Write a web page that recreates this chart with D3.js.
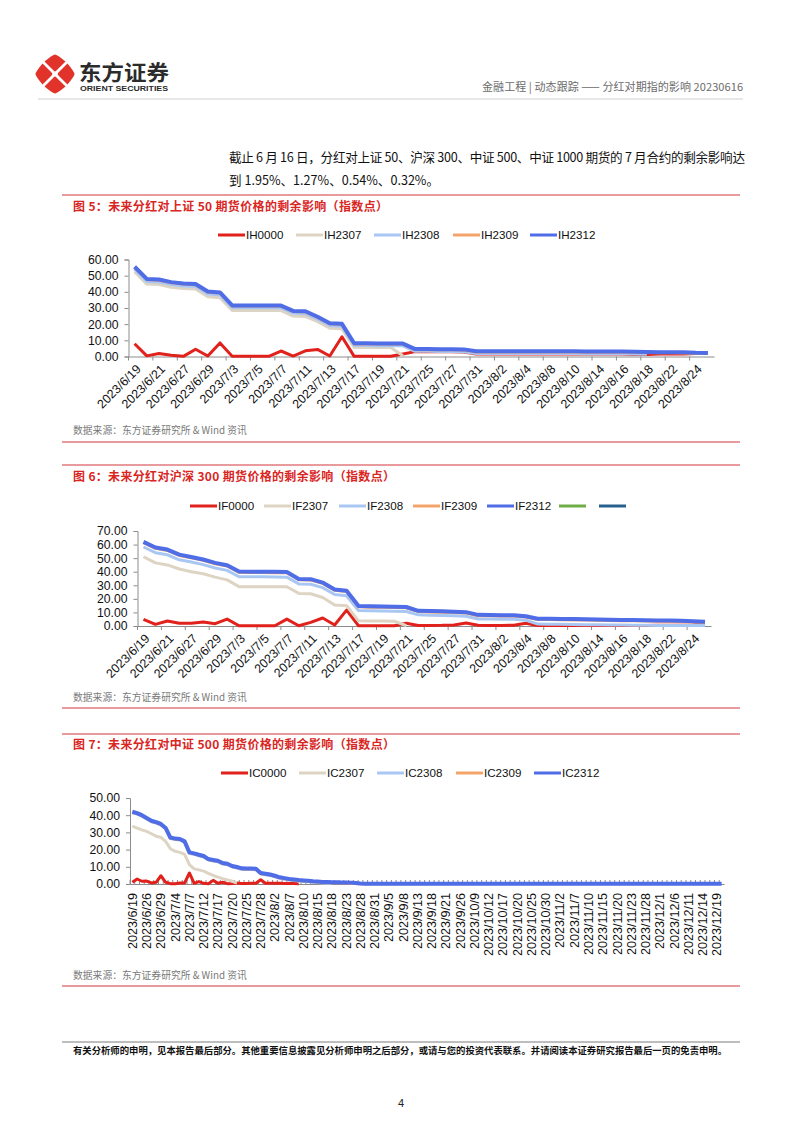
<!DOCTYPE html>
<html><head><meta charset="utf-8">
<script src="https://cdn.jsdelivr.net/npm/d3@7"></script>
<style>
body{margin:0;background:#fff;}
svg{display:block;}
.cjk{font-family:"Noto Sans CJK SC","Noto Sans",sans-serif;}
.lat{font-family:"Liberation Sans",Arial,sans-serif;}
</style></head>
<body>
<svg id="page" width="802" height="1133"></svg>
<script>
// ---------- DATA ----------
const datesIH = ["2023/6/19","2023/6/20","2023/6/21","2023/6/26","2023/6/27","2023/6/28","2023/6/29","2023/6/30","2023/7/3","2023/7/4","2023/7/5","2023/7/6","2023/7/7","2023/7/10","2023/7/11","2023/7/12","2023/7/13","2023/7/14","2023/7/17","2023/7/18","2023/7/19","2023/7/20","2023/7/21","2023/7/24","2023/7/25","2023/7/26","2023/7/27","2023/7/28","2023/7/31","2023/8/1","2023/8/2","2023/8/3","2023/8/4","2023/8/7","2023/8/8","2023/8/9","2023/8/10","2023/8/11","2023/8/14","2023/8/15","2023/8/16","2023/8/17","2023/8/18","2023/8/21","2023/8/22","2023/8/23","2023/8/24","2023/8/25"];
const datesIF = datesIH;
const datesIC = ["2023/6/19","2023/6/20","2023/6/21","2023/6/26","2023/6/27","2023/6/28","2023/6/29","2023/6/30","2023/7/3","2023/7/4","2023/7/5","2023/7/6","2023/7/7","2023/7/10","2023/7/11","2023/7/12","2023/7/13","2023/7/14","2023/7/17","2023/7/18","2023/7/19","2023/7/20","2023/7/21","2023/7/24","2023/7/25","2023/7/26","2023/7/27","2023/7/28","2023/7/31","2023/8/1","2023/8/2","2023/8/3","2023/8/4","2023/8/7","2023/8/8","2023/8/9","2023/8/10","2023/8/11","2023/8/14","2023/8/15","2023/8/16","2023/8/17","2023/8/18","2023/8/21","2023/8/22","2023/8/23","2023/8/24","2023/8/25","2023/8/28","2023/8/29","2023/8/30","2023/8/31","2023/9/1","2023/9/4","2023/9/5","2023/9/6","2023/9/7","2023/9/8","2023/9/11","2023/9/12","2023/9/13","2023/9/14","2023/9/15","2023/9/18","2023/9/19","2023/9/20","2023/9/21","2023/9/22","2023/9/25","2023/9/26","2023/9/27","2023/9/28","2023/10/9","2023/10/10","2023/10/11","2023/10/12","2023/10/13","2023/10/16","2023/10/17","2023/10/18","2023/10/19","2023/10/20","2023/10/23","2023/10/24","2023/10/25","2023/10/26","2023/10/27","2023/10/30","2023/10/31","2023/11/1","2023/11/2","2023/11/3","2023/11/6","2023/11/7","2023/11/8","2023/11/9","2023/11/10","2023/11/13","2023/11/14","2023/11/15","2023/11/16","2023/11/17","2023/11/20","2023/11/21","2023/11/22","2023/11/23","2023/11/24","2023/11/27","2023/11/28","2023/11/29","2023/11/30","2023/12/1","2023/12/4","2023/12/5","2023/12/6","2023/12/7","2023/12/8","2023/12/11","2023/12/12","2023/12/13","2023/12/14","2023/12/15","2023/12/18","2023/12/19","2023/12/20"];

// 上证50 (IH)
const IH0000 = [7.9,0.4,1.9,0.8,0.1,4.5,0.3,8.4,0.1,0.1,0.1,0.1,3.4,0.3,3.5,4.4,0.3,12.2,0.1,0.1,0.1,0.1,1.5,3.0,3.0,2.9,2.9,2.8,1.6,1.6,1.6,1.6,1.6,1.6,1.6,1.6,1.6,1.5,1.5,1.5,1.5,1.3,1.2,1.5,1.6,1.6,1.8,2.0];
const IH2307 = [52.4,44.8,44.5,42.8,42.0,41.7,37.0,36.4,28.5,28.5,28.5,28.5,28.4,25.0,24.8,21.5,17.5,17.1,5.6,5.6,5.5,5.5,0.5];
const IH2308 = [54.0,46.4,46.1,44.5,43.6,43.3,38.7,38.1,30.1,30.1,30.1,30.1,30.0,26.7,26.5,23.1,19.1,18.7,6.8,6.8,6.7,6.7,6.6,3.2,3.2,3.1,3.1,3.0,1.8,1.8,1.8,1.8,1.8,1.8,1.8,1.8,1.8,1.7,1.7,1.7,1.7,1.5,1.4];
const IH2309 = [55.1,47.6,47.2,45.6,44.8,44.4,39.8,39.2,31.2,31.2,31.2,31.2,31.1,27.8,27.6,24.2,20.2,19.8,7.8,7.8,7.7,7.7,7.6,4.2,4.2,4.1,4.1,4.0,2.8,2.8,2.8,2.8,2.8,2.8,2.8,2.8,2.8,2.7,2.7,2.7,2.7,2.5,2.4,2.3,2.3,2.2,1.9,1.8];
const IH2312 = [55.5,48.0,47.6,46.0,45.2,44.8,40.2,39.6,31.6,31.6,31.6,31.6,31.5,28.2,28.0,24.6,20.6,20.2,8.2,8.2,8.1,8.1,8.0,4.6,4.6,4.5,4.5,4.4,3.2,3.2,3.2,3.2,3.2,3.2,3.2,3.2,3.2,3.1,3.1,3.1,3.1,2.9,2.8,2.7,2.7,2.6,2.3,2.2];

// 沪深300 (IF)
const IF0000 = [4.9,1.2,3.7,2.0,2.0,2.9,1.7,5.1,0.2,0.2,0.2,0.2,5.1,0.2,2.7,5.9,0.7,11.7,0.2,0.2,0.2,0.2,2.0,0.4,0.4,0.5,0.8,2.2,0.5,0.4,0.4,0.6,2.0,0.4,0.4,0.4,0.4,0.4,0.4,0.4,0.4,0.4,0.4,0.5,0.5,0.6,0.8,1.5];
const IF2307 = [51.0,46.5,45.0,42.0,40.0,38.5,36.0,34.0,29.0,29.0,29.0,28.9,28.9,24.0,23.8,21.0,15.5,15.0,3.8,3.7,3.6,3.5,0.3];
const IF2308 = [58.2,54.0,52.5,48.8,47.1,45.2,42.7,41.0,36.3,36.2,36.2,36.1,36.0,31.0,30.8,28.3,23.2,22.3,11.4,11.2,11.1,10.9,10.7,8.2,8.0,7.8,7.5,7.2,5.2,5.1,5.0,4.9,4.3,1.4,1.3,1.2,1.1,1.0,0.9,0.8,0.7,0.6,0.5,0.4,0.4,0.4,0.3,0.3];
const IF2309 = [61.4,57.2,55.7,52.0,50.3,48.4,45.9,44.2,39.5,39.4,39.4,39.3,39.2,34.1,33.9,31.4,26.3,25.4,14.1,13.9,13.8,13.6,13.4,10.6,10.4,10.2,9.9,9.6,7.6,7.5,7.4,7.3,6.6,4.8,4.7,4.6,4.5,4.4,4.2,4.0,3.9,3.8,3.7,3.5,3.4,3.2,2.9,2.6];
const IF2312 = [62.0,57.8,56.3,52.6,50.9,49.0,46.5,44.8,40.1,40.0,40.0,39.9,39.8,34.7,34.5,32.0,26.9,26.0,14.7,14.5,14.4,14.2,14.0,11.2,11.0,10.8,10.5,10.2,8.2,8.1,8.0,7.9,7.2,5.4,5.3,5.2,5.1,5.0,4.8,4.6,4.5,4.4,4.3,4.1,4.0,3.8,3.5,3.2];

// 中证500 (IC)
const IC0000 = [1.0,2.9,1.6,1.7,0.6,1.0,4.8,1.0,0.2,0.2,0.6,0.6,6.4,0.4,1.4,0.4,0.2,2.1,0.4,1.0,0.2,0.3,0.6,0.3,0.3,0.4,0.4,2.5,0.4,0.4,0.5,0.4,0.3,0.3,0.3,0.2];
const IC2307 = [33.7,32.5,31.5,30.6,29.2,27.8,27.1,24.8,20.5,19.0,18.4,17.2,11.2,8.8,8.2,7.5,6.2,5.0,4.0,3.1,2.4,1.6,0.6];
const IC2308 = [41.4,40.6,39.4,37.8,36.2,35.4,34.3,32.0,26.4,25.8,25.6,24.2,17.8,17.2,16.4,15.7,13.9,13.4,12.9,11.6,11.2,9.9,9.3,8.5,8.4,8.4,8.3,5.8,5.4,4.9,4.2,3.3,2.8,2.3,2.0,1.7,1.5,1.3,1.0,0.8,0.6,0.5,0.4];
const IC2309 = [41.7,40.9,39.7,38.1,36.5,35.7,34.6,32.3,26.7,26.1,25.9,24.5,18.1,17.5,16.7,16.0,14.2,13.7,13.2,11.9,11.5,10.2,9.6,8.8,8.7,8.7,8.6,6.1,5.7,5.2,4.5,3.6,3.1,2.6,2.3,2.0,1.8,1.6,1.3,1.1,0.9,0.8,0.7,0.7,0.6,0.6,0.5,0.3,0.1,0.1,0.1,0.1,0.1,0.1,0.1,0.1,0.1,0.1,0.1,0.1,0.1,0.1,0.1];
const IC2312 = [42.0,41.2,40.0,38.4,36.8,36.0,34.9,32.6,27.0,26.4,26.2,24.8,18.4,17.8,17.0,16.3,14.5,14.0,13.5,12.2,11.8,10.5,9.9,9.1,9.0,9.0,8.9,6.4,6.0,5.5,4.8,3.9,3.4,2.9,2.6,2.3,2.1,1.9,1.6,1.4,1.2,1.1,1.0,1.0,0.9,0.9,0.8,0.6,0.3,0.2,0.2,0.2,0.2,0.2,0.2,0.2,0.2,0.2,0.2,0.2,0.2,0.2,0.2,0.2,0.2,0.2,0.2,0.2,0.2,0.2,0.2,0.2,0.2,0.2,0.2,0.2,0.2,0.2,0.2,0.2,0.2,0.2,0.2,0.2,0.2,0.2,0.2,0.2,0.2,0.2,0.2,0.2,0.2,0.2,0.2,0.2,0.2,0.2,0.2,0.2,0.2,0.2,0.2,0.2,0.2,0.2,0.2,0.2,0.2,0.2,0.2,0.2,0.2,0.2,0.2,0.2,0.2,0.2,0.2,0.2,0.2,0.2,0.2,0.2,0.2];

const seriesColors = {c0000:"#E1211C", c2307:"#DDD4C4", c2308:"#A9C7F3", c2309:"#F4A46B", c2312:"#4E6DE6", green:"#6FAD47", navy:"#26608F"};

const titles = ["图 5：未来分红对上证 50 期货价格的剩余影响（指数点）",
                "图 6：未来分红对沪深 300 期货价格的剩余影响（指数点）",
                "图 7：未来分红对中证 500 期货价格的剩余影响（指数点）"];
const sourceText = "数据来源：东方证券研究所 & Wind 资讯";

// ---------- PAGE ----------
const svg = d3.select("#page");
svg.append("rect").attr("width",802).attr("height",1133).attr("fill","#fff");

// logo
const logo = svg.append("g").attr("transform","translate(55,74)");
[0,90,180,270].forEach(a=>{
  logo.append("path").attr("d","M-1.2,-3.2 L-10.5,-12.5 Q-2,-19.5 0,-19.5 Q2,-19.5 10.5,-12.5 L1.2,-3.2 Q0,-2 -1.2,-3.2 Z")
    .attr("transform",`rotate(${a})`).attr("fill","#E2332B");
});
svg.append("text").attr("class","cjk").attr("x",79).attr("y",80).attr("font-size",21).attr("font-weight",700)
  .attr("fill","#2b2b2b").attr("textLength",90).attr("lengthAdjust","spacingAndGlyphs").text("东方证券");
svg.append("text").attr("class","lat").attr("x",80).attr("y",91).attr("font-size",7.6).attr("font-weight",700)
  .attr("fill","#2b2b2b").attr("textLength",88).attr("lengthAdjust","spacingAndGlyphs").text("ORIENT SECURITIES");
svg.append("text").attr("class","cjk").attr("x",743).attr("y",91).attr("text-anchor","end").attr("font-size",11)
  .attr("fill","#6b6b6b").attr("textLength",261).attr("lengthAdjust","spacing").text("金融工程 | 动态跟踪 —— 分红对期指的影响 20230616");
svg.append("line").attr("x1",38).attr("x2",743).attr("y1",99).attr("y2",99).attr("stroke","#cfcfcf").attr("stroke-width",1);

// body text
svg.append("text").attr("class","cjk").attr("x",229).attr("y",162).attr("font-size",12.6).attr("fill","#111")
  .attr("textLength",516).attr("lengthAdjust","spacing")
  .text("截止 6 月 16 日，分红对上证 50、沪深 300、中证 500、中证 1000 期货的 7 月合约的剩余影响达");
svg.append("text").attr("class","cjk").attr("x",229).attr("y",185).attr("font-size",12.6).attr("fill","#111")
  .text("到 1.95%、1.27%、0.54%、0.32%。");

// footer
svg.append("line").attr("x1",62).attr("x2",740).attr("y1",1042).attr("y2",1042).attr("stroke","#a8a8a8").attr("stroke-width",1.5);
svg.append("text").attr("class","cjk").attr("x",73).attr("y",1054).attr("font-size",9.6).attr("font-weight",700).attr("fill","#111")
  .attr("textLength",654).attr("lengthAdjust","spacingAndGlyphs")
  .text("有关分析师的申明，见本报告最后部分。其他重要信息披露见分析师申明之后部分，或请与您的投资代表联系。并请阅读本证券研究报告最后一页的免责申明。");
svg.append("text").attr("class","lat").attr("x",401).attr("y",1107).attr("text-anchor","middle").attr("font-size",11).attr("fill","#222").text("4");

// ---------- CHART FUNCTION ----------
function drawChart(cfg){
  const g = svg.append("g");
  g.append("line").attr("x1",62).attr("x2",740).attr("y1",cfg.topLine).attr("y2",cfg.topLine).attr("stroke","#E0787C").attr("stroke-width",1.5);
  g.append("text").attr("class","cjk").attr("x",73).attr("y",cfg.titleY).attr("font-size",12).attr("font-weight",700)
    .attr("fill","#D9261F").attr("textLength",cfg.titleLen).attr("lengthAdjust","spacing").text(cfg.title);
  g.append("text").attr("class","cjk").attr("x",73).attr("y",cfg.sourceY).attr("font-size",9.8).attr("fill","#7a7a7a").text(sourceText);
  g.append("line").attr("x1",62).attr("x2",740).attr("y1",cfg.bottomLine).attr("y2",cfg.bottomLine).attr("stroke","#E0787C").attr("stroke-width",1.5);

  const x = d3.scaleBand().domain(cfg.dates).range([cfg.x0,cfg.x1]);
  const y = d3.scaleLinear().domain([0,cfg.ymax]).range([cfg.yBot,cfg.yTop]);
  const bw = x.bandwidth();
  const cx = d => x(d)+bw/2;

  const ya = g.append("g").attr("transform",`translate(${cfg.x0},0)`)
    .call(d3.axisLeft(y).tickValues(d3.range(0,cfg.ymax+0.1,10)).tickFormat(d3.format(".2f")).tickSize(4).tickPadding(6));
  ya.select(".domain").attr("stroke","#8c8c8c").attr("stroke-width",1);
  ya.selectAll(".tick line").attr("stroke","#8c8c8c");
  ya.selectAll("text").attr("class","lat").attr("font-size",12.2).attr("fill","#111");

  const lblDates = cfg.dates.filter((d,i)=>i%cfg.step===0);
  const xa = g.append("g").attr("transform",`translate(0,${cfg.yBot})`)
    .call(d3.axisBottom(x).tickValues(cfg.tickEvery? cfg.dates : lblDates).tickSize(cfg.tickLen).tickPadding(0).tickSizeOuter(0));
  xa.select(".domain").attr("stroke","#8c8c8c").attr("stroke-width",1);
  xa.selectAll(".tick line").attr("stroke","#8c8c8c").attr("transform",`translate(${-bw/2},0)`);
  xa.selectAll("text").remove();
  const lg = g.append("g");
  lblDates.forEach(d=>{
    lg.append("text").attr("class","lat").attr("font-size",cfg.lblSize).attr("fill","#111")
      .attr("text-anchor","end").text(d)
      .attr("transform",`translate(${cx(d)},${cfg.yBot}) rotate(${cfg.rot})`)
      .attr("x",cfg.lx).attr("y",cfg.ly).attr("dy","0.35em");
  });

  const line = d3.line().x((v,i)=>cx(cfg.dates[i])).y(v=>y(v));
  cfg.series.forEach(s=>{
    g.append("path").datum(s.values).attr("d",line).attr("fill","none").attr("stroke",s.color)
      .attr("stroke-width",s.w).attr("stroke-linejoin","round").attr("stroke-linecap","butt");
  });

  cfg.legend.forEach((it,i)=>{
    const lx = cfg.legendX[i];
    g.append("line").attr("x1",lx).attr("x2",lx+27).attr("y1",cfg.legendY).attr("y2",cfg.legendY)
      .attr("stroke",it.color).attr("stroke-width",3);
    if(it.name) g.append("text").attr("class","lat").attr("x",lx+28).attr("y",cfg.legendY).attr("dy","0.35em")
      .attr("font-size",11.6).attr("fill","#111").text(it.name);
  });
}

const C = seriesColors;
drawChart({
  topLine:195, title:titles[0], titleLen:315, titleY:211, sourceY:434, bottomLine:442,
  dates:datesIH, x0:128.5, x1:714, yTop:259.5, yBot:356.5, ymax:60, step:2, tickLen:4,
  rot:-45, lx:-4.5, ly:10, lblSize:12.5,
  series:[{values:IH0000,color:C.c0000,w:3},{values:IH2307,color:C.c2307,w:3},{values:IH2308,color:C.c2308,w:3},
          {values:IH2309,color:C.c2309,w:3},{values:IH2312,color:C.c2312,w:4}],
  legendY:235, legendX:[218,296,374,453,530],
  legend:[{name:"IH0000",color:C.c0000},{name:"IH2307",color:C.c2307},{name:"IH2308",color:C.c2308},{name:"IH2309",color:C.c2309},{name:"IH2312",color:C.c2312}]
});
drawChart({
  topLine:465, title:titles[1], titleLen:322, titleY:481, sourceY:701, bottomLine:708,
  dates:datesIF, x0:137.5, x1:711, yTop:531, yBot:626, ymax:70, step:2, tickLen:4,
  rot:-45, lx:-4.5, ly:10, lblSize:12.5,
  series:[{values:IF0000,color:C.c0000,w:3},{values:IF2307,color:C.c2307,w:3},{values:IF2308,color:C.c2308,w:3},
          {values:IF2309,color:C.c2309,w:3},{values:IF2312,color:C.c2312,w:4}],
  legendY:506, legendX:[190,264,339,413,487,559,599],
  legend:[{name:"IF0000",color:C.c0000},{name:"IF2307",color:C.c2307},{name:"IF2308",color:C.c2308},{name:"IF2309",color:C.c2309},{name:"IF2312",color:C.c2312},{name:"",color:C.green},{name:"",color:C.navy}]
});
drawChart({
  topLine:734, title:titles[2], titleLen:322, titleY:749, sourceY:979, bottomLine:986,
  dates:datesIC, x0:130, x1:724, yTop:798, yBot:884, ymax:50, step:3, tickLen:-4, tickEvery:true,
  rot:-90, lx:-9, ly:0, lblSize:12.6,
  series:[{values:IC0000,color:C.c0000,w:3},{values:IC2307,color:C.c2307,w:3},{values:IC2308,color:C.c2308,w:3},
          {values:IC2309,color:C.c2309,w:3},{values:IC2312,color:C.c2312,w:4}],
  legendY:773, legendX:[221,299,377,456,534],
  legend:[{name:"IC0000",color:C.c0000},{name:"IC2307",color:C.c2307},{name:"IC2308",color:C.c2308},{name:"IC2309",color:C.c2309},{name:"IC2312",color:C.c2312}]
});
</script>
</body></html>
